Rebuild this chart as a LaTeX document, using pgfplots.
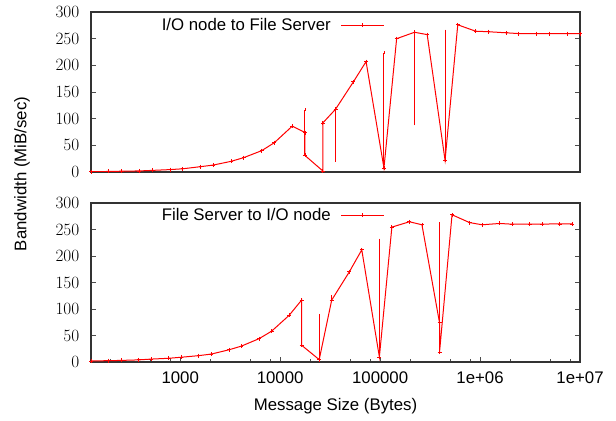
\documentclass[border=0pt]{standalone}
\usepackage{pgfplots}
\pgfplotsset{compat=1.18}
\usepackage{fontspec}
\setmainfont{Liberation Sans}
\newcommand{\myfs}{\fontsize{16.8bp}{19bp}\selectfont}
\begin{document}
\myfs
\begin{tikzpicture}
\path[use as bounding box] (0,0) rectangle (616bp,421bp);
% top axis
\begin{axis}[scale only axis, width=489bp, height=160bp, at={(91bp,249bp)}, anchor=south west,
  xmode=log, xmin=128, xmax=8388608, xtick=\empty, ymin=0, ymax=300,
  ytick={0,50,100,150,200,250,300}, tick align=inside,
  axis line style={black!80, line width=1.1bp},
  major tick length=5bp, minor tick length=2.5bp,
  tick style={black!70, line width=0.8bp},
  tick label style={font=\myfs},
  yticklabel style={xshift=-6bp},
  legend plot pos=right, legend cell align=right,
  legend image code/.code={\draw[mark repeat=2,mark phase=2,#1] plot coordinates {(0bp,0bp) (21.5bp,0bp) (43bp,0bp)};},
  legend style={draw=none, fill=none, anchor=east, inner sep=0pt, font=\myfs,
    column sep=10bp, nodes={inner sep=0pt},
    at={(axis description cs:0.6012,0.915625)}}]
\addplot[red, line width=1bp, mark=+, mark size=2bp, mark options={line width=0.8bp}] coordinates {
 (128,0.5) (192,1) (256,1.5) (384,2) (512,3) (768,4.5) (1024,6) (1536,10)
 (2048,13) (3072,20) (4096,27) (6144,40) (8192,55) (12288,86)
 (16384,74) (16384,31) (24576,2) (24576,92) (32768,117.6) (49152,169)
 (65536,207) (98304,7.5) (131072,250) (196608,262) (262144,257.6)
 (393216,22) (524288,276) (786432,264) (1048576,263) (1572864,261)
 (2097152,259.5) (3145728,259.5) (4194304,259.5) (6291456,259.5) (8388608,259.5)
};
\addlegendentry{I/O node to File Server}
\addplot[red, line width=1bp, only marks, mark size=0pt, forget plot,
  error bars/y dir=both, error bars/y explicit,
  error bars/error bar style={red, line width=1bp},
  error bars/error mark=-,
  error bars/error mark options={red, mark size=1.5bp, line width=0.8bp}] coordinates {
 (16384,74) +- (0,43)
 (32768,117.6) += (0,0) -= (0,95.6)
 (98304,7.5) += (0,216.5) -= (0,0)
 (196608,262) += (0,0) -= (0,172)
 (393216,22) += (0,242) -= (0,0)
};
\end{axis}
% bottom axis
\begin{axis}[scale only axis, width=489bp, height=159bp, at={(91bp,59bp)}, anchor=south west,
  xmode=log, xmin=128, xmax=10000000, ymin=0, ymax=300,
  ytick={0,50,100,150,200,250,300}, tick align=inside,
  axis line style={black!80, line width=1.1bp},
  major tick length=5bp, minor tick length=2.5bp,
  tick style={black!70, line width=0.8bp},
  tick label style={font=\myfs},
  yticklabel style={xshift=-6bp},
  xtick pos=lower,
  xtick={1000,10000,100000,1000000,10000000},
  xticklabels={1000,10000,100000,1e+06,1e+07},
  minor xtick={200,500,800,2000,5000,8000,20000,50000,80000,200000,500000,800000,2000000,5000000,8000000},
  xticklabel style={yshift=-4bp},
  xlabel={Message Size (Bytes)},
  xlabel style={at={(axis description cs:0.5,0)}, anchor=base, yshift=-48bp, font=\myfs},
  legend plot pos=right, legend cell align=right,
  legend image code/.code={\draw[mark repeat=2,mark phase=2,#1] plot coordinates {(0bp,0bp) (21.5bp,0bp) (43bp,0bp)};},
  legend style={draw=none, fill=none, anchor=east, inner sep=0pt, font=\myfs,
    column sep=10bp, nodes={inner sep=0pt},
    at={(axis description cs:0.6012,0.9214)}}]
\addplot[red, line width=1bp, mark=+, mark size=2bp, mark options={line width=0.8bp}] coordinates {
 (128,2) (192,2.5) (256,3) (384,4) (512,5.5) (768,7) (1024,9) (1536,12)
 (2048,15) (3072,23) (4096,30) (6144,44) (8192,58) (12288,88)
 (16384,116.8) (16384,31.6) (24576,4.5) (32768,116.8) (49152,170)
 (65536,211.6) (98304,9.5) (131072,254.5) (196608,264.6) (262144,258.9)
 (393216,73.9) (393216,18.9) (524288,277.8) (786432,263) (1048576,258.9) (1572864,261.4)
 (2097152,260) (3145728,260.3) (4194304,260.3) (6291456,260.5) (8388608,260.5)
};
\addlegendentry{File Server to I/O node}
\addplot[red, line width=1bp, only marks, mark size=0pt, forget plot,
  error bars/y dir=both, error bars/y explicit,
  error bars/error bar style={red, line width=1bp},
  error bars/error mark=-,
  error bars/error mark options={red, mark size=1.5bp, line width=0.8bp}] coordinates {
 (24576,4.5) += (0,83.5) -= (0,0)
 (32768,116.8) += (0,6) -= (0,0)
 (98304,9.5) += (0,220.5) -= (0,0)
 (393216,18.9) += (0,241.9) -= (0,0)
};
\end{axis}
\node[rotate=90, font=\myfs] at (22bp,247bp) {Bandwidth (MiB/sec)};
\end{tikzpicture}
\end{document}
